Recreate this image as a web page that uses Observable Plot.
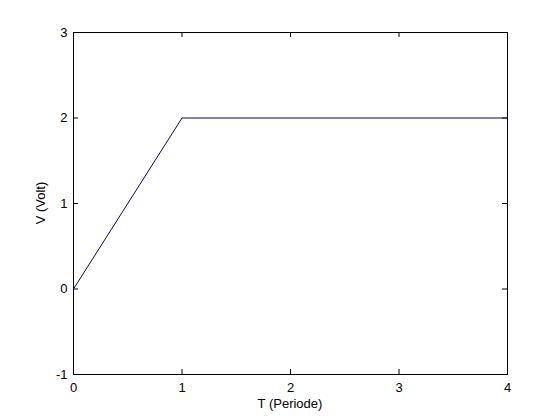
<!DOCTYPE html>
<html>
<head>
<meta charset="utf-8">
<script src="https://cdn.jsdelivr.net/npm/d3@7"></script>
<script src="https://cdn.jsdelivr.net/npm/@observablehq/plot@0.6"></script>
<style>
  html, body { margin: 0; padding: 0; background: #ffffff; }
  #chart { width: 560px; height: 420px; }
</style>
</head>
<body>
<div id="chart"></div>
<script>
const tValues = [0, 1, 4];
const vValues = [0, 2, 2];
const xTicks = [0, 1, 2, 3, 4];
const yTicks = [-1, 0, 1, 2, 3];
const xLabel = "T (Periode)";
const yLabel = "V (Volt)";

const data = tValues.map((t, i) => ({t, v: vValues[i]}));

const W = 560, H = 420;
const mL = 73, mR = 53, mT = 32, mB = 46;
const innerH = H - mT - mB;
const innerW = W - mL - mR;
const tick = 5;
const fs = 13;

const chart = Plot.plot({
  width: W,
  height: H,
  marginLeft: mL,
  marginRight: mR,
  marginTop: mT,
  marginBottom: mB,
  style: {fontFamily: "Liberation Sans, Arial, sans-serif", fontSize: fs + "px", background: "#ffffff", color: "#000"},
  x: {domain: [0, 4]},
  y: {domain: [-1, 3]},
  marks: [
    Plot.frame({stroke: "#000", strokeWidth: 1}),
    // inward ticks on all four sides
    Plot.tickX(xTicks, {x: d => d, insetTop: innerH - tick, stroke: "#000"}),
    Plot.tickX(xTicks, {x: d => d, insetBottom: innerH - tick, stroke: "#000"}),
    Plot.tickY(yTicks, {y: d => d, insetRight: innerW - tick, stroke: "#000"}),
    Plot.tickY(yTicks, {y: d => d, insetLeft: innerW - tick, stroke: "#000"}),
    Plot.axisX({ticks: xTicks, tickSize: 0, tickPadding: 8, tickFormat: d => String(d), label: null, fontSize: fs}),
    Plot.axisY({ticks: yTicks, tickSize: 0, tickPadding: 6, tickFormat: d => String(d).replace("−", "-"), label: null, fontSize: fs}),
    Plot.line(data, {x: "t", y: "v", stroke: "#000080", strokeWidth: 1})
  ]
});

const svg = d3.select(chart);
svg.append("text")
  .attr("x", mL + innerW / 2)
  .attr("y", 408)
  .attr("text-anchor", "middle")
  .attr("font-size", fs)
  .attr("fill", "#000")
  .text(xLabel);
svg.append("text")
  .attr("transform", `translate(45, ${mT + innerH / 2}) rotate(-90)`)
  .attr("text-anchor", "middle")
  .attr("font-size", fs)
  .attr("fill", "#000")
  .text(yLabel);

document.getElementById("chart").appendChild(chart);
</script>
</body>
</html>
